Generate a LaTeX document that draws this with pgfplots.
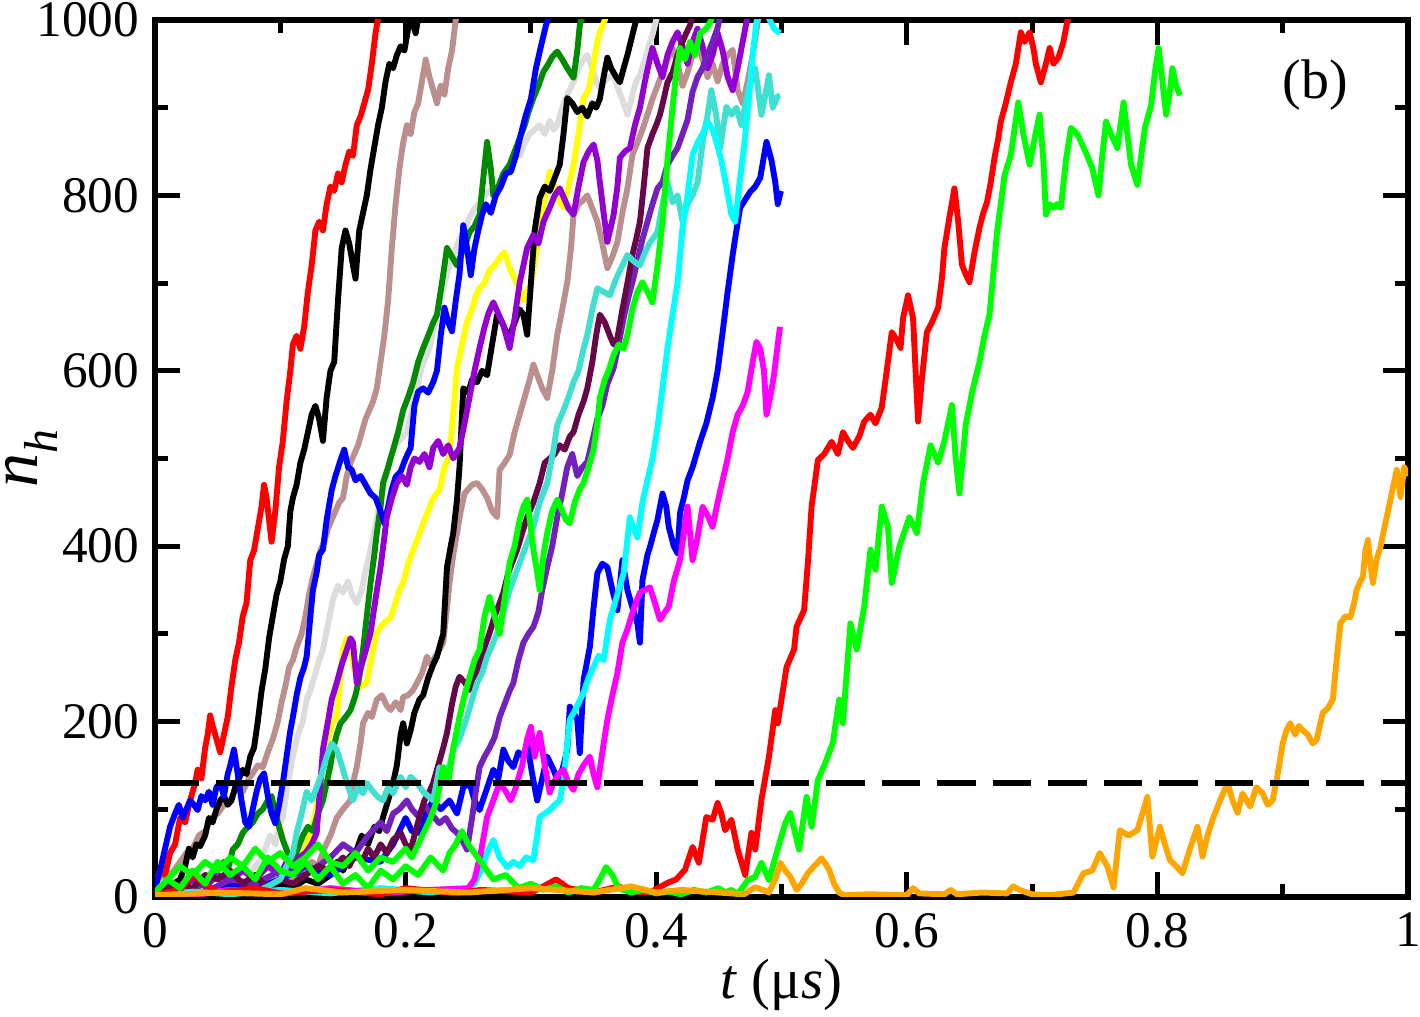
\documentclass[border=0pt]{standalone}
\usepackage{fontspec}
\setmainfont{Liberation Serif}
\usepackage{pgfplots}
\pgfplotsset{compat=1.18}
\definecolor{gred}{RGB}{255,0,0}
\definecolor{glime}{RGB}{0,255,0}
\definecolor{gblue}{RGB}{0,0,255}
\definecolor{gyellow}{RGB}{255,255,0}
\definecolor{gbrown}{RGB}{188,143,143}
\definecolor{ggrey}{RGB}{220,220,220}
\definecolor{gviolet}{RGB}{148,0,211}
\definecolor{gcyan}{RGB}{0,255,255}
\definecolor{gmagenta}{RGB}{255,0,255}
\definecolor{gorange}{RGB}{255,165,0}
\definecolor{gindigo}{RGB}{114,33,188}
\definecolor{gmaroon}{RGB}{103,7,72}
\definecolor{gturq}{RGB}{64,224,208}
\definecolor{ggreen}{RGB}{0,139,0}
\begin{document}
\begin{tikzpicture}
\begin{axis}[
  scale only axis, width=97.06mm, height=67.93mm,
  xmin=0, xmax=1, ymin=0, ymax=1000,
  xtick={0,0.2,0.4,0.6,0.8,1}, xticklabels={0,0.2,0.4,0.6,0.8,1},
  ytick={0,200,400,600,800,1000}, yticklabels={0,200,400,600,800,1000},
  minor x tick num=1, minor y tick num=1,
  tick pos=both, ticklabel pos=left, tick align=inside,
  major tick length=1.9mm, minor tick length=1.0mm,
  every tick/.style={black, line width=1.1pt},
  axis line style={line width=1.2pt},
  ticklabel style={font=\fontsize{11.3}{13}\selectfont},
  xlabel={\textit{t} (μ\textit{s})},
  ylabel={\fontsize{15}{16}\selectfont\textit{n}\raisebox{-1.55mm}{\fontsize{10.5}{11}\selectfont\textit{h}}},
  xlabel style={at={(axis description cs:0.5,-0.1163)}, anchor=base, inner sep=0pt, font=\fontsize{12.5}{14}\selectfont},
  ylabel style={at={(axis description cs:-0.0935,0.5)}, anchor=base, inner sep=0pt},
  every axis plot/.append style={line width=1.3pt, line join=round, mark=none},
  clip=true,
]
% grey
\addplot[color=ggrey] coordinates {(0,3)(0.02,10)(0.04,6)(0.06,15)(0.07,12)(0.075,25)(0.08,35)(0.084,42)(0.088,55)(0.092,70)(0.096,60)(0.099,80)(0.102,91)(0.106,130)(0.110,160)(0.114,185)(0.118,200)(0.121,225)(0.124,236)(0.128,255)(0.131,270)(0.134,282)(0.138,310)(0.142,339)(0.146,355)(0.150,347)(0.154,360)(0.157,345)(0.161,335)(0.165,350)(0.168,372)(0.172,396)(0.176,425)(0.180,453)(0.184,475)(0.188,502)(0.192,515)(0.196,522)(0.201,530)(0.205,555)(0.209,580)(0.213,605)(0.216,615)(0.219,626)(0.223,650)(0.227,675)(0.231,700)(0.235,720)(0.239,735)(0.243,750)(0.247,760)(0.251,775)(0.255,785)(0.258,790)(0.262,797)(0.266,805)(0.270,800)(0.275,808)(0.279,820)(0.283,835)(0.287,850)(0.291,845)(0.295,860)(0.299,870)(0.303,875)(0.307,880)(0.311,870)(0.315,885)(0.318,875)(0.321,880)(0.325,900)(0.329,915)(0.334,929)(0.338,945)(0.342,955)(0.345,960)(0.349,945)(0.352,930)(0.355,922)(0.359,930)(0.362,935)(0.366,937)(0.370,920)(0.374,905)(0.377,892)(0.381,915)(0.384,930)(0.387,937)(0.391,955)(0.394,970)(0.397,983)(0.400,1000)(0.403,1020)};
% yellow
\addplot[color=gyellow] coordinates {(0,3)(0.02,8)(0.04,5)(0.06,12)(0.08,8)(0.09,15)(0.1,20)(0.105,30)(0.11,25)(0.115,40)(0.12,55)(0.123,70)(0.126,84)(0.13,110)(0.134,150)(0.138,180)(0.142,200)(0.145,205)(0.148,250)(0.150,282)(0.153,295)(0.156,280)(0.159,260)(0.161,251)(0.165,240)(0.169,244)(0.173,275)(0.177,301)(0.181,310)(0.185,315)(0.188,319)(0.192,335)(0.195,350)(0.198,358)(0.202,380)(0.206,396)(0.210,410)(0.214,426)(0.218,440)(0.222,455)(0.227,464)(0.231,490)(0.235,502)(0.238,550)(0.241,603)(0.245,630)(0.249,656)(0.253,670)(0.256,685)(0.259,694)(0.263,700)(0.267,715)(0.271,720)(0.275,729)(0.279,735)(0.283,717)(0.287,705)(0.291,694)(0.294,680)(0.297,690)(0.300,700)(0.302,715)(0.306,750)(0.310,790)(0.315,827)(0.319,810)(0.322,795)(0.326,786)(0.330,810)(0.334,835)(0.338,870)(0.342,911)(0.346,920)(0.350,950)(0.353,975)(0.355,986)(0.359,1000)(0.362,1020)};
% brown 1
\addplot[color=gbrown] coordinates {(0,15)(0.005,25)(0.01,20)(0.015,30)(0.02,40)(0.025,50)(0.03,55)(0.035,70)(0.04,75)(0.045,90)(0.05,95)(0.055,105)(0.06,110)(0.065,125)(0.07,120)(0.075,135)(0.078,141)(0.082,150)(0.086,148)(0.09,165)(0.094,180)(0.098,200)(0.101,222)(0.104,240)(0.107,262)(0.110,270)(0.113,285)(0.117,300)(0.120,320)(0.123,345)(0.126,365)(0.129,380)(0.132,395)(0.135,405)(0.138,420)(0.141,430)(0.144,440)(0.147,450)(0.150,455)(0.153,480)(0.156,495)(0.159,505)(0.162,515)(0.165,530)(0.168,545)(0.171,555)(0.174,565)(0.177,580)(0.180,610)(0.183,640)(0.186,680)(0.189,740)(0.192,790)(0.195,830)(0.198,860)(0.201,880)(0.204,870)(0.207,895)(0.210,905)(0.213,930)(0.216,955)(0.219,935)(0.222,920)(0.225,905)(0.228,925)(0.231,915)(0.234,945)(0.237,965)(0.240,1000)(0.243,1020)};
% brown 2
\addplot[color=gbrown] coordinates {(0,3)(0.02,10)(0.04,5)(0.06,15)(0.08,10)(0.1,25)(0.11,18)(0.12,30)(0.125,40)(0.13,35)(0.135,55)(0.14,70)(0.145,90)(0.15,100)(0.156,110)(0.158,130)(0.161,148)(0.164,175)(0.166,198)(0.170,210)(0.173,205)(0.177,225)(0.181,230)(0.185,218)(0.188,213)(0.192,222)(0.196,213)(0.198,228)(0.202,230)(0.206,236)(0.209,244)(0.213,255)(0.217,274)(0.220,265)(0.224,275)(0.227,282)(0.230,290)(0.233,330)(0.235,358)(0.238,390)(0.241,415)(0.244,440)(0.247,460)(0.250,465)(0.253,470)(0.257,472)(0.261,465)(0.265,455)(0.269,440)(0.273,433)(0.275,487)(0.279,495)(0.283,504)(0.287,530)(0.291,550)(0.295,570)(0.299,590)(0.302,607)(0.305,595)(0.309,580)(0.313,569)(0.317,600)(0.321,641)(0.325,670)(0.329,701)(0.332,740)(0.334,778)(0.338,790)(0.342,795)(0.345,800)(0.349,785)(0.353,770)(0.357,745)(0.361,717)(0.365,730)(0.369,747)(0.373,780)(0.377,808)(0.381,846)(0.385,860)(0.389,875)(0.393,892)(0.397,910)(0.401,925)(0.405,940)(0.409,955)(0.413,968)(0.417,950)(0.421,925)(0.425,940)(0.429,960)(0.433,975)(0.437,955)(0.441,935)(0.445,950)(0.449,930)(0.453,950)(0.457,960)(0.461,966)(0.465,920)(0.469,905)(0.473,930)(0.477,960)(0.481,998)(0.485,1020)};
% dark green
\addplot[color=ggreen] coordinates {(0,5)(0.01,15)(0.02,10)(0.03,20)(0.035,12)(0.04,25)(0.045,18)(0.05,30)(0.055,40)(0.059,35)(0.062,54)(0.066,60)(0.07,73)(0.074,80)(0.078,85)(0.082,95)(0.086,100)(0.09,110)(0.093,115)(0.096,95)(0.099,80)(0.102,65)(0.106,50)(0.110,40)(0.114,55)(0.118,70)(0.122,80)(0.126,75)(0.130,95)(0.134,110)(0.137,130)(0.140,150)(0.142,168)(0.145,185)(0.148,198)(0.152,205)(0.156,213)(0.160,230)(0.163,250)(0.166,282)(0.169,320)(0.172,358)(0.175,390)(0.177,415)(0.180,445)(0.182,472)(0.186,490)(0.190,510)(0.194,530)(0.198,555)(0.202,570)(0.206,587)(0.210,610)(0.214,626)(0.218,640)(0.222,655)(0.225,664)(0.229,700)(0.233,740)(0.237,730)(0.241,720)(0.245,735)(0.248,745)(0.251,758)(0.255,765)(0.259,778)(0.262,820)(0.265,861)(0.268,830)(0.270,800)(0.274,810)(0.278,825)(0.283,835)(0.287,850)(0.291,865)(0.295,880)(0.298,895)(0.302,911)(0.306,925)(0.310,941)(0.314,950)(0.317,958)(0.321,964)(0.325,955)(0.329,945)(0.334,934)(0.337,965)(0.339,994)(0.342,1010)(0.345,1030)};
% black 1
\addplot[color=black] coordinates {(0,5)(0.005,10)(0.01,8)(0.015,15)(0.02,20)(0.024,35)(0.027,55)(0.030,45)(0.033,60)(0.036,58)(0.040,70)(0.043,90)(0.046,85)(0.049,100)(0.052,110)(0.055,115)(0.058,105)(0.061,110)(0.064,125)(0.067,135)(0.070,145)(0.073,140)(0.076,160)(0.079,170)(0.082,200)(0.085,235)(0.088,260)(0.091,295)(0.094,320)(0.097,345)(0.100,360)(0.103,385)(0.106,400)(0.108,440)(0.110,455)(0.113,470)(0.116,495)(0.119,510)(0.122,530)(0.125,550)(0.128,560)(0.131,545)(0.134,520)(0.137,570)(0.140,600)(0.143,610)(0.146,680)(0.149,740)(0.152,760)(0.155,745)(0.158,720)(0.160,705)(0.163,760)(0.166,780)(0.169,800)(0.172,830)(0.175,855)(0.178,880)(0.181,900)(0.184,930)(0.187,950)(0.190,945)(0.193,960)(0.196,970)(0.199,965)(0.202,990)(0.205,1000)(0.208,985)(0.211,1010)(0.214,1040)};
% black 2
\addplot[color=black] coordinates {(0,2)(0.02,8)(0.04,4)(0.06,12)(0.08,6)(0.1,15)(0.11,10)(0.12,20)(0.13,15)(0.14,25)(0.145,40)(0.15,30)(0.155,45)(0.161,54)(0.165,70)(0.17,60)(0.175,80)(0.179,75)(0.182,91)(0.186,110)(0.190,130)(0.193,150)(0.196,185)(0.198,198)(0.201,175)(0.204,190)(0.207,210)(0.211,225)(0.214,230)(0.218,250)(0.222,265)(0.225,274)(0.228,290)(0.230,300)(0.233,376)(0.236,400)(0.238,415)(0.241,453)(0.243,490)(0.246,580)(0.250,575)(0.253,590)(0.257,587)(0.261,600)(0.265,595)(0.269,630)(0.273,664)(0.277,655)(0.280,645)(0.283,641)(0.287,655)(0.291,670)(0.294,664)(0.297,641)(0.300,700)(0.303,760)(0.307,797)(0.311,810)(0.315,805)(0.319,820)(0.323,835)(0.326,870)(0.329,911)(0.333,905)(0.337,895)(0.341,900)(0.345,890)(0.349,905)(0.352,900)(0.355,910)(0.358,935)(0.361,957)(0.364,945)(0.368,935)(0.371,929)(0.374,945)(0.377,960)(0.381,983)(0.384,1000)(0.387,1020)};
% red 1
\addplot[color=gred] coordinates {(0,15)(0.004,30)(0.008,25)(0.012,50)(0.016,60)(0.020,90)(0.024,85)(0.028,110)(0.032,130)(0.034,145)(0.037,135)(0.040,170)(0.042,185)(0.044,207)(0.046,195)(0.049,180)(0.052,165)(0.055,185)(0.058,205)(0.061,240)(0.064,270)(0.067,290)(0.070,320)(0.073,335)(0.076,384)(0.079,395)(0.082,420)(0.085,445)(0.087,470)(0.089,455)(0.091,430)(0.093,405)(0.096,440)(0.099,490)(0.102,520)(0.105,565)(0.108,600)(0.110,630)(0.113,640)(0.116,625)(0.119,650)(0.122,690)(0.125,720)(0.128,760)(0.131,770)(0.134,760)(0.137,790)(0.140,810)(0.143,805)(0.146,825)(0.149,815)(0.152,835)(0.155,850)(0.158,845)(0.161,880)(0.164,890)(0.167,905)(0.170,920)(0.173,950)(0.176,985)(0.179,1010)(0.182,1040)};
% blue 1
\addplot[color=gblue] coordinates {(0,10)(0.004,30)(0.008,55)(0.012,80)(0.016,95)(0.019,105)(0.022,90)(0.025,100)(0.028,110)(0.031,105)(0.034,99)(0.037,115)(0.040,110)(0.043,120)(0.046,105)(0.049,125)(0.052,130)(0.055,115)(0.058,140)(0.060,150)(0.063,168)(0.066,140)(0.069,110)(0.072,85)(0.075,80)(0.078,100)(0.081,120)(0.084,135)(0.087,141)(0.090,115)(0.093,95)(0.096,84)(0.099,105)(0.102,130)(0.105,160)(0.108,190)(0.110,205)(0.113,230)(0.116,250)(0.119,262)(0.121,274)(0.124,320)(0.126,350)(0.129,370)(0.131,390)(0.134,396)(0.137,430)(0.141,464)(0.144,480)(0.148,498)(0.151,510)(0.154,490)(0.157,487)(0.160,475)(0.164,480)(0.168,470)(0.172,460)(0.176,455)(0.180,440)(0.183,426)(0.186,445)(0.189,465)(0.192,479)(0.196,485)(0.200,500)(0.204,512)(0.207,560)(0.210,576)(0.214,580)(0.218,575)(0.222,587)(0.225,600)(0.228,640)(0.231,672)(0.234,655)(0.237,645)(0.240,680)(0.243,710)(0.246,766)(0.249,740)(0.252,709)(0.255,740)(0.258,760)(0.261,778)(0.264,790)(0.268,780)(0.272,800)(0.276,810)(0.280,825)(0.284,827)(0.288,845)(0.292,870)(0.296,892)(0.300,910)(0.304,945)(0.308,970)(0.312,994)(0.316,1010)(0.320,1030)};
% blue 2
\addplot[color=gblue] coordinates {(0,3)(0.02,8)(0.04,5)(0.06,15)(0.08,10)(0.1,20)(0.12,35)(0.14,25)(0.16,45)(0.18,40)(0.19,60)(0.2,90)(0.205,75)(0.211,73)(0.216,95)(0.222,110)(0.228,100)(0.235,110)(0.241,95)(0.246,125)(0.251,130)(0.255,110)(0.259,99)(0.264,120)(0.270,145)(0.274,135)(0.278,168)(0.282,155)(0.286,148)(0.290,165)(0.294,160)(0.297,175)(0.301,140)(0.305,110)(0.309,135)(0.313,160)(0.318,145)(0.322,130)(0.326,150)(0.329,168)(0.331,217)(0.334,210)(0.337,202)(0.339,164)(0.342,247)(0.345,270)(0.347,285)(0.350,330)(0.353,369)(0.357,380)(0.361,376)(0.365,350)(0.369,327)(0.373,384)(0.377,350)(0.381,330)(0.385,312)(0.387,290)(0.389,361)(0.393,390)(0.395,399)(0.398,415)(0.401,430)(0.405,460)(0.408,445)(0.410,422)(0.414,400)(0.417,392)(0.419,438)(0.422,455)(0.425,475)(0.429,490)(0.435,519)(0.440,540)(0.445,569)(0.449,600)(0.453,644)(0.457,690)(0.461,732)(0.464,760)(0.467,786)(0.471,795)(0.475,804)(0.479,810)(0.483,820)(0.486,845)(0.488,861)(0.492,840)(0.495,815)(0.497,790)(0.4995,805)};
% violet
\addplot[color=gviolet] coordinates {(0,8)(0.01,15)(0.02,10)(0.03,20)(0.04,12)(0.05,25)(0.06,18)(0.07,30)(0.08,20)(0.09,35)(0.1,25)(0.105,40)(0.11,30)(0.115,45)(0.12,50)(0.125,60)(0.129,73)(0.132,130)(0.134,168)(0.138,200)(0.141,225)(0.145,244)(0.149,265)(0.153,282)(0.156,295)(0.158,290)(0.161,244)(0.164,260)(0.168,280)(0.172,301)(0.176,340)(0.180,376)(0.183,410)(0.185,433)(0.189,455)(0.193,472)(0.197,480)(0.201,470)(0.204,490)(0.207,500)(0.211,496)(0.215,505)(0.219,490)(0.222,512)(0.226,520)(0.230,505)(0.234,515)(0.238,500)(0.243,512)(0.247,540)(0.251,570)(0.255,600)(0.259,626)(0.263,650)(0.266,665)(0.270,678)(0.274,665)(0.278,652)(0.283,626)(0.287,660)(0.291,700)(0.294,720)(0.297,740)(0.302,755)(0.306,745)(0.310,770)(0.315,786)(0.319,800)(0.323,808)(0.327,795)(0.330,785)(0.334,778)(0.338,810)(0.342,838)(0.346,850)(0.350,858)(0.353,840)(0.355,815)(0.358,780)(0.361,747)(0.364,765)(0.366,778)(0.369,810)(0.371,843)(0.375,850)(0.379,854)(0.383,880)(0.387,900)(0.391,930)(0.394,950)(0.397,968)(0.401,950)(0.405,935)(0.409,960)(0.413,975)(0.417,986)(0.421,970)(0.425,950)(0.429,975)(0.433,990)(0.437,970)(0.441,945)(0.445,960)(0.449,985)(0.453,965)(0.457,935)(0.461,920)(0.465,945)(0.469,975)(0.473,1005)(0.477,1030)};
% indigo
\addplot[color=gindigo] coordinates {(0,2)(0.02,10)(0.04,5)(0.06,20)(0.08,15)(0.1,30)(0.12,25)(0.14,45)(0.15,60)(0.16,50)(0.17,70)(0.18,85)(0.185,75)(0.19,95)(0.195,100)(0.201,110)(0.205,100)(0.21,92)(0.215,105)(0.22,95)(0.227,84)(0.232,90)(0.237,78)(0.241,73)(0.245,65)(0.249,54)(0.253,90)(0.256,120)(0.259,148)(0.263,160)(0.267,170)(0.271,182)(0.275,205)(0.279,220)(0.283,235)(0.286,244)(0.290,270)(0.294,290)(0.298,300)(0.302,308)(0.306,325)(0.309,350)(0.313,376)(0.317,400)(0.321,433)(0.325,460)(0.329,490)(0.333,505)(0.337,480)(0.341,490)(0.345,496)(0.349,520)(0.353,545)(0.357,560)(0.361,585)(0.366,603)(0.370,630)(0.374,660)(0.378,685)(0.381,701)(0.385,725)(0.389,750)(0.393,770)(0.397,790)(0.401,808)(0.405,815)(0.409,835)(0.413,845)(0.417,854)(0.421,870)(0.425,886)(0.429,918)(0.433,935)(0.437,945)(0.441,961)(0.445,975)(0.449,991)(0.452,1010)(0.455,1030)};
% maroon
\addplot[color=gmaroon] coordinates {(0,3)(0.02,15)(0.03,10)(0.04,25)(0.05,20)(0.06,30)(0.07,15)(0.08,25)(0.09,10)(0.1,20)(0.11,15)(0.12,25)(0.13,35)(0.14,30)(0.15,45)(0.155,35)(0.16,50)(0.165,40)(0.17,55)(0.175,45)(0.18,60)(0.185,50)(0.19,65)(0.196,73)(0.2,60)(0.204,54)(0.208,75)(0.211,91)(0.215,110)(0.219,120)(0.222,130)(0.226,150)(0.230,170)(0.233,187)(0.237,220)(0.240,240)(0.243,251)(0.247,245)(0.251,236)(0.255,250)(0.259,267)(0.263,285)(0.267,301)(0.271,320)(0.275,335)(0.278,347)(0.282,370)(0.286,385)(0.289,396)(0.293,415)(0.297,433)(0.302,450)(0.307,472)(0.311,495)(0.315,500)(0.319,505)(0.323,515)(0.327,510)(0.331,525)(0.334,530)(0.338,550)(0.342,565)(0.345,580)(0.349,610)(0.352,640)(0.355,664)(0.359,655)(0.363,640)(0.366,630)(0.369,637)(0.373,670)(0.377,700)(0.381,732)(0.384,750)(0.387,770)(0.390,810)(0.393,854)(0.397,870)(0.400,880)(0.403,892)(0.406,910)(0.409,929)(0.413,940)(0.417,960)(0.421,975)(0.424,985)(0.427,994)(0.43,1010)(0.433,1030)};
% turquoise
\addplot[color=gturq] coordinates {(0,3)(0.02,5)(0.04,4)(0.06,8)(0.08,6)(0.09,12)(0.1,20)(0.105,35)(0.11,50)(0.113,73)(0.117,95)(0.121,120)(0.125,110)(0.129,125)(0.133,140)(0.137,160)(0.141,175)(0.145,168)(0.149,150)(0.153,130)(0.158,110)(0.162,125)(0.166,118)(0.169,130)(0.173,122)(0.177,115)(0.182,110)(0.186,125)(0.19,118)(0.196,137)(0.2,125)(0.204,137)(0.209,130)(0.214,120)(0.218,115)(0.222,110)(0.227,148)(0.231,140)(0.235,150)(0.238,168)(0.243,180)(0.249,205)(0.253,225)(0.257,244)(0.261,255)(0.265,274)(0.27,290)(0.275,308)(0.279,330)(0.283,350)(0.287,365)(0.291,381)(0.296,400)(0.302,422)(0.307,450)(0.313,472)(0.318,510)(0.321,538)(0.326,555)(0.330,570)(0.334,587)(0.338,600)(0.342,625)(0.345,641)(0.349,670)(0.353,694)(0.358,690)(0.363,686)(0.368,705)(0.373,720)(0.377,732)(0.382,725)(0.387,720)(0.391,735)(0.395,746)(0.401,758)(0.405,790)(0.409,815)(0.413,792)(0.417,800)(0.421,770)(0.425,790)(0.429,800)(0.433,815)(0.437,860)(0.441,892)(0.444,920)(0.448,890)(0.451,854)(0.456,901)(0.460,892)(0.464,900)(0.468,880)(0.473,918)(0.479,945)(0.484,892)(0.490,937)(0.493,900)(0.497,913)(0.4988,914)};
% cyan
\addplot[color=gcyan] coordinates {(0,2)(0.03,6)(0.06,3)(0.1,8)(0.14,4)(0.18,10)(0.22,5)(0.25,8)(0.255,15)(0.26,30)(0.265,50)(0.27,65)(0.275,45)(0.281,34)(0.286,40)(0.291,35)(0.296,45)(0.302,42)(0.305,70)(0.307,91)(0.311,95)(0.315,99)(0.319,105)(0.323,110)(0.326,133)(0.331,202)(0.336,215)(0.342,233)(0.346,250)(0.350,262)(0.354,275)(0.358,270)(0.363,316)(0.368,340)(0.374,369)(0.379,433)(0.382,420)(0.385,410)(0.389,450)(0.393,475)(0.397,500)(0.401,535)(0.405,580)(0.409,626)(0.413,664)(0.417,700)(0.421,763)(0.425,800)(0.429,846)(0.433,860)(0.437,870)(0.441,884)(0.445,875)(0.448,861)(0.452,840)(0.456,810)(0.460,778)(0.463,770)(0.467,820)(0.470,854)(0.474,911)(0.477,960)(0.480,998)(0.484,1015)(0.489,1005)(0.494,990)(0.4988,985)};
% magenta
\addplot[color=gmagenta] coordinates {(0,5)(0.03,2)(0.06,8)(0.1,3)(0.14,10)(0.18,4)(0.22,8)(0.25,10)(0.255,20)(0.26,50)(0.265,91)(0.27,110)(0.275,130)(0.28,120)(0.284,110)(0.288,125)(0.293,150)(0.297,180)(0.300,194)(0.303,160)(0.307,187)(0.311,150)(0.315,119)(0.318,130)(0.322,140)(0.326,145)(0.330,130)(0.334,122)(0.338,140)(0.342,150)(0.347,160)(0.350,140)(0.353,125)(0.357,165)(0.361,202)(0.365,230)(0.369,255)(0.373,290)(0.377,305)(0.381,324)(0.385,340)(0.387,347)(0.391,350)(0.395,353)(0.399,335)(0.403,316)(0.407,325)(0.410,331)(0.414,360)(0.419,384)(0.425,445)(0.429,384)(0.433,410)(0.437,445)(0.441,435)(0.445,422)(0.449,450)(0.453,475)(0.457,500)(0.461,530)(0.465,550)(0.469,560)(0.473,576)(0.477,610)(0.480,633)(0.483,625)(0.486,600)(0.488,550)(0.491,570)(0.494,595)(0.497,630)(0.4988,650)};
% lime 1
\addplot[color=glime] coordinates {(0,5)(0.01,20)(0.02,35)(0.03,25)(0.04,40)(0.05,30)(0.06,45)(0.07,35)(0.08,55)(0.09,40)(0.1,50)(0.11,35)(0.12,45)(0.13,60)(0.14,40)(0.15,35)(0.16,50)(0.17,30)(0.18,45)(0.19,40)(0.2,55)(0.205,45)(0.21,60)(0.215,75)(0.22,90)(0.225,110)(0.23,148)(0.234,130)(0.238,170)(0.243,205)(0.247,230)(0.251,250)(0.255,270)(0.259,282)(0.263,320)(0.267,342)(0.271,320)(0.275,300)(0.279,340)(0.283,381)(0.287,400)(0.291,430)(0.294,445)(0.297,453)(0.300,420)(0.302,396)(0.305,370)(0.307,350)(0.310,390)(0.313,415)(0.317,440)(0.321,453)(0.325,440)(0.328,430)(0.331,426)(0.335,450)(0.339,465)(0.342,472)(0.346,490)(0.350,510)(0.353,540)(0.355,569)(0.359,590)(0.362,600)(0.366,618)(0.370,630)(0.374,625)(0.377,641)(0.381,670)(0.385,690)(0.389,701)(0.393,690)(0.397,678)(0.401,720)(0.405,770)(0.409,840)(0.413,900)(0.416,940)(0.419,968)(0.423,955)(0.427,975)(0.431,960)(0.435,985)(0.440,990)(0.444,1000)(0.447,1015)(0.45,1030)};
% red 2
\addplot[color=gred] coordinates {(0,3)(0.02,8)(0.03,25)(0.04,15)(0.05,5)(0.08,10)(0.1,4)(0.14,8)(0.18,3)(0.2,10)(0.24,4)(0.26,8)(0.3,5)(0.31,12)(0.32,20)(0.33,10)(0.35,5)(0.37,12)(0.38,6)(0.395,5)(0.409,16)(0.416,20)(0.423,31)(0.429,57)(0.434,39)(0.440,91)(0.445,88)(0.449,107)(0.452,95)(0.455,76)(0.460,88)(0.465,54)(0.471,25)(0.476,73)(0.479,54)(0.484,111)(0.490,160)(0.495,213)(0.497,198)(0.504,262)(0.510,282)(0.512,308)(0.518,327)(0.521,380)(0.524,445)(0.529,498)(0.534,505)(0.540,519)(0.545,505)(0.549,530)(0.553,520)(0.557,512)(0.562,525)(0.566,542)(0.571,550)(0.575,540)(0.580,558)(0.584,600)(0.588,644)(0.592,635)(0.595,626)(0.597,660)(0.601,686)(0.605,660)(0.607,600)(0.609,542)(0.612,590)(0.616,644)(0.620,655)(0.625,672)(0.628,705)(0.630,740)(0.634,775)(0.638,808)(0.641,770)(0.644,721)(0.647,710)(0.650,701)(0.654,735)(0.658,763)(0.661,780)(0.664,792)(0.667,815)(0.670,843)(0.673,865)(0.675,884)(0.679,905)(0.683,929)(0.687,950)(0.691,986)(0.694,975)(0.698,986)(0.701,968)(0.703,950)(0.707,929)(0.711,950)(0.714,968)(0.717,950)(0.721,957)(0.725,975)(0.728,998)(0.731,1010)(0.735,1030)};
% lime 3
\addplot[color=glime] coordinates {(0,5)(0.01,20)(0.02,10)(0.03,30)(0.04,15)(0.05,40)(0.06,25)(0.07,35)(0.08,20)(0.09,45)(0.1,30)(0.11,25)(0.12,40)(0.13,20)(0.14,35)(0.15,15)(0.16,25)(0.17,10)(0.18,30)(0.19,20)(0.2,35)(0.21,25)(0.22,45)(0.23,30)(0.235,50)(0.24,60)(0.245,75)(0.25,60)(0.255,50)(0.26,40)(0.265,30)(0.27,20)(0.28,25)(0.29,10)(0.3,15)(0.31,8)(0.32,12)(0.33,5)(0.34,10)(0.35,8)(0.355,20)(0.36,34)(0.365,25)(0.37,10)(0.38,5)(0.39,8)(0.40,4)(0.41,6)(0.42,3)(0.43,8)(0.44,5)(0.45,10)(0.455,5)(0.46,8)(0.465,3)(0.473,19)(0.479,23)(0.484,39)(0.490,19)(0.496,50)(0.503,84)(0.507,96)(0.514,54)(0.520,114)(0.524,80)(0.529,133)(0.535,153)(0.541,176)(0.546,225)(0.549,198)(0.555,312)(0.560,282)(0.566,331)(0.571,396)(0.575,373)(0.580,445)(0.585,422)(0.588,358)(0.594,399)(0.602,433)(0.608,415)(0.613,472)(0.619,515)(0.625,495)(0.630,520)(0.636,561)(0.639,500)(0.642,460)(0.647,538)(0.652,575)(0.658,610)(0.662,640)(0.666,664)(0.669,710)(0.672,758)(0.675,790)(0.678,823)(0.683,846)(0.689,906)(0.693,870)(0.698,835)(0.702,865)(0.706,892)(0.709,840)(0.711,778)(0.714,790)(0.717,786)(0.720,790)(0.723,786)(0.727,840)(0.731,877)(0.736,870)(0.740,858)(0.744,845)(0.748,831)(0.753,800)(0.756,845)(0.759,884)(0.763,870)(0.768,854)(0.773,906)(0.776,870)(0.779,835)(0.784,812)(0.790,877)(0.795,903)(0.798,940)(0.801,968)(0.804,930)(0.807,892)(0.810,920)(0.812,945)(0.815,925)(0.818,914)};
% orange
\addplot[color=gorange] coordinates {(0,2)(0.05,5)(0.1,3)(0.12,10)(0.15,5)(0.2,8)(0.25,5)(0.3,10)(0.35,5)(0.38,12)(0.4,5)(0.42,8)(0.45,5)(0.47,3)(0.479,11)(0.485,8)(0.490,5)(0.495,20)(0.499,39)(0.503,30)(0.507,23)(0.512,8)(0.516,15)(0.521,27)(0.526,35)(0.532,44)(0.535,38)(0.538,31)(0.542,15)(0.546,5)(0.55,2)(0.57,3)(0.6,2)(0.605,10)(0.61,4)(0.63,3)(0.635,8)(0.64,3)(0.66,5)(0.68,4)(0.685,12)(0.69,8)(0.70,3)(0.714,2)(0.733,5)(0.741,27)(0.748,30)(0.754,50)(0.760,35)(0.765,11)(0.770,76)(0.777,70)(0.784,76)(0.788,95)(0.792,114)(0.796,46)(0.802,80)(0.806,60)(0.810,42)(0.815,35)(0.820,27)(0.826,55)(0.832,80)(0.836,46)(0.840,70)(0.844,88)(0.850,110)(0.856,130)(0.860,110)(0.864,96)(0.868,118)(0.874,103)(0.879,125)(0.884,118)(0.888,105)(0.892,110)(0.896,140)(0.900,175)(0.903,190)(0.906,198)(0.910,185)(0.913,195)(0.916,190)(0.920,185)(0.924,175)(0.927,179)(0.932,210)(0.936,215)(0.940,225)(0.943,270)(0.946,312)(0.950,320)(0.954,319)(0.957,335)(0.959,350)(0.962,360)(0.964,365)(0.966,395)(0.968,407)(0.970,380)(0.972,358)(0.975,385)(0.978,399)(0.981,420)(0.983,433)(0.987,460)(0.991,487)(0.994,456)(0.997,490)(1.0,480)};
% threshold
\addplot[color=black, line width=1.25pt, dash pattern=on 3mm off 1.3mm] coordinates {(0.004,130)(1,130)};
\node[font=\fontsize{12.3}{14}\selectfont] at (axis cs:0.926,926) {(b)};
\end{axis}
\pgfresetboundingbox
\path[use as bounding box] (-12.01mm,-9.30mm) rectangle (97.99mm,69.48mm);
\end{tikzpicture}
\end{document}
